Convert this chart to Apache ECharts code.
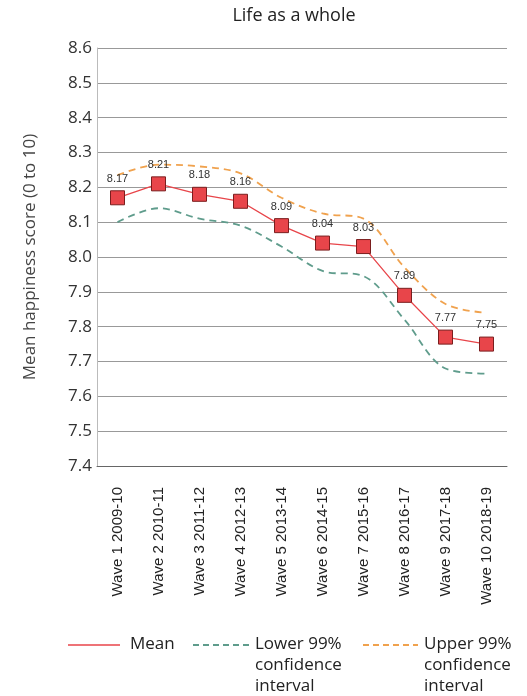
<!DOCTYPE html>
<html>
<head>
<meta charset="utf-8">
<script src="https://cdn.jsdelivr.net/npm/echarts@6/dist/echarts.min.js"></script>
<style>
  html, body { margin: 0; padding: 0; background: #fff; }
  #chart { width: 527px; height: 696px; }
</style>
</head>
<body>
<div id="chart"></div>
<script>
// Survey waves (x axis)
const waves = [
  'Wave 1 2009-10', 'Wave 2 2010-11', 'Wave 3 2011-12', 'Wave 4 2012-13',
  'Wave 5 2013-14', 'Wave 6 2014-15', 'Wave 7 2015-16', 'Wave 8 2016-17',
  'Wave 9 2017-18', 'Wave 10 2018-19'
];
// Mean score per wave
const meanScores = [8.17, 8.21, 8.18, 8.16, 8.09, 8.04, 8.03, 7.89, 7.77, 7.75];
// 99% confidence bounds
const lowerCI = [8.10, 8.14, 8.11, 8.09, 8.03, 7.96, 7.945, 7.82, 7.68, 7.665];
const upperCI = [8.235, 8.265, 8.26, 8.24, 8.17, 8.125, 8.11, 7.97, 7.865, 7.84];
// Y axis ticks
const yTicks = { min: 7.4, max: 8.6, step: 0.1 };

const font = '"Open Sans", "Liberation Sans", Arial, sans-serif';
const axisFont = '"Liberation Sans", Arial, sans-serif';
const redColor = '#e8454a';
const tealColor = '#5f9c8c';
const orangeColor = '#f0a24e';

const chart = echarts.init(document.getElementById('chart'));

chart.setOption({
  animation: false,
  backgroundColor: '#ffffff',
  title: {
    text: 'Life as a whole',
    left: 289, top: 2, textAlign: 'center',
    textStyle: { fontFamily: font, fontSize: 18, fontWeight: 'normal', color: '#222' }
  },
  grid: { left: 97, right: 20, top: 48, bottom: 230 },
  xAxis: {
    type: 'category',
    data: waves,
    boundaryGap: true,
    axisLine: { show: true, lineStyle: { color: '#666', width: 1 } },
    axisTick: { show: false },
    axisLabel: {
      rotate: 90, interval: 0, margin: 21,
      fontFamily: axisFont, fontSize: 15, color: '#222'
    }
  },
  yAxis: {
    type: 'value',
    min: yTicks.min, max: yTicks.max, interval: yTicks.step,
    name: 'Mean happiness score (0 to 10)',
    nameLocation: 'middle', nameGap: 58, nameRotate: 90,
    nameTextStyle: { fontFamily: font, fontSize: 17, color: '#444' },
    axisLine: { show: true, lineStyle: { color: '#bbb', width: 1 } },
    axisTick: { show: false },
    splitLine: { lineStyle: { color: '#999', width: 1 } },
    axisLabel: {
      margin: 5,
      fontFamily: font, fontSize: 17, color: '#333',
      formatter: v => v.toFixed(1)
    }
  },
  series: [
    {
      name: 'Lower 99% confidence interval',
      type: 'line', data: lowerCI, smooth: 0.35, symbol: 'none', z: 2,
      lineStyle: { color: tealColor, width: 1.8, type: [7, 5] }
    },
    {
      name: 'Upper 99% confidence interval',
      type: 'line', data: upperCI, smooth: 0.35, symbol: 'none', z: 2,
      lineStyle: { color: orangeColor, width: 1.8, type: [7, 5] }
    },
    {
      name: 'Mean',
      type: 'line', data: meanScores, z: 3,
      symbol: 'rect', symbolSize: 14,
      itemStyle: { color: redColor, borderColor: '#7a1e1e', borderWidth: 1 },
      lineStyle: { color: redColor, width: 1.3 },
      label: {
        show: true, position: 'top', distance: 6,
        fontFamily: axisFont, fontSize: 11, color: '#333',
        formatter: p => p.value.toFixed(2)
      }
    }
  ],
  graphic: [
    { type: 'line', shape: { x1: 68, y1: 645, x2: 120, y2: 645 }, style: { stroke: redColor, lineWidth: 1.5 } },
    { type: 'text', left: 130, top: 634, style: { text: 'Mean', font: '17px ' + font, fill: '#222', lineHeight: 21 } },
    { type: 'line', shape: { x1: 193, y1: 645, x2: 250, y2: 645 }, style: { stroke: tealColor, lineWidth: 1.8, lineDash: [6, 4] } },
    { type: 'text', left: 255, top: 634, style: { text: 'Lower 99%\nconfidence\ninterval', font: '17px ' + font, fill: '#222', lineHeight: 21 } },
    { type: 'line', shape: { x1: 363, y1: 645, x2: 418, y2: 645 }, style: { stroke: orangeColor, lineWidth: 1.8, lineDash: [6, 4] } },
    { type: 'text', left: 424, top: 634, style: { text: 'Upper 99%\nconfidence\ninterval', font: '17px ' + font, fill: '#222', lineHeight: 21 } }
  ]
});
</script>
</body>
</html>
